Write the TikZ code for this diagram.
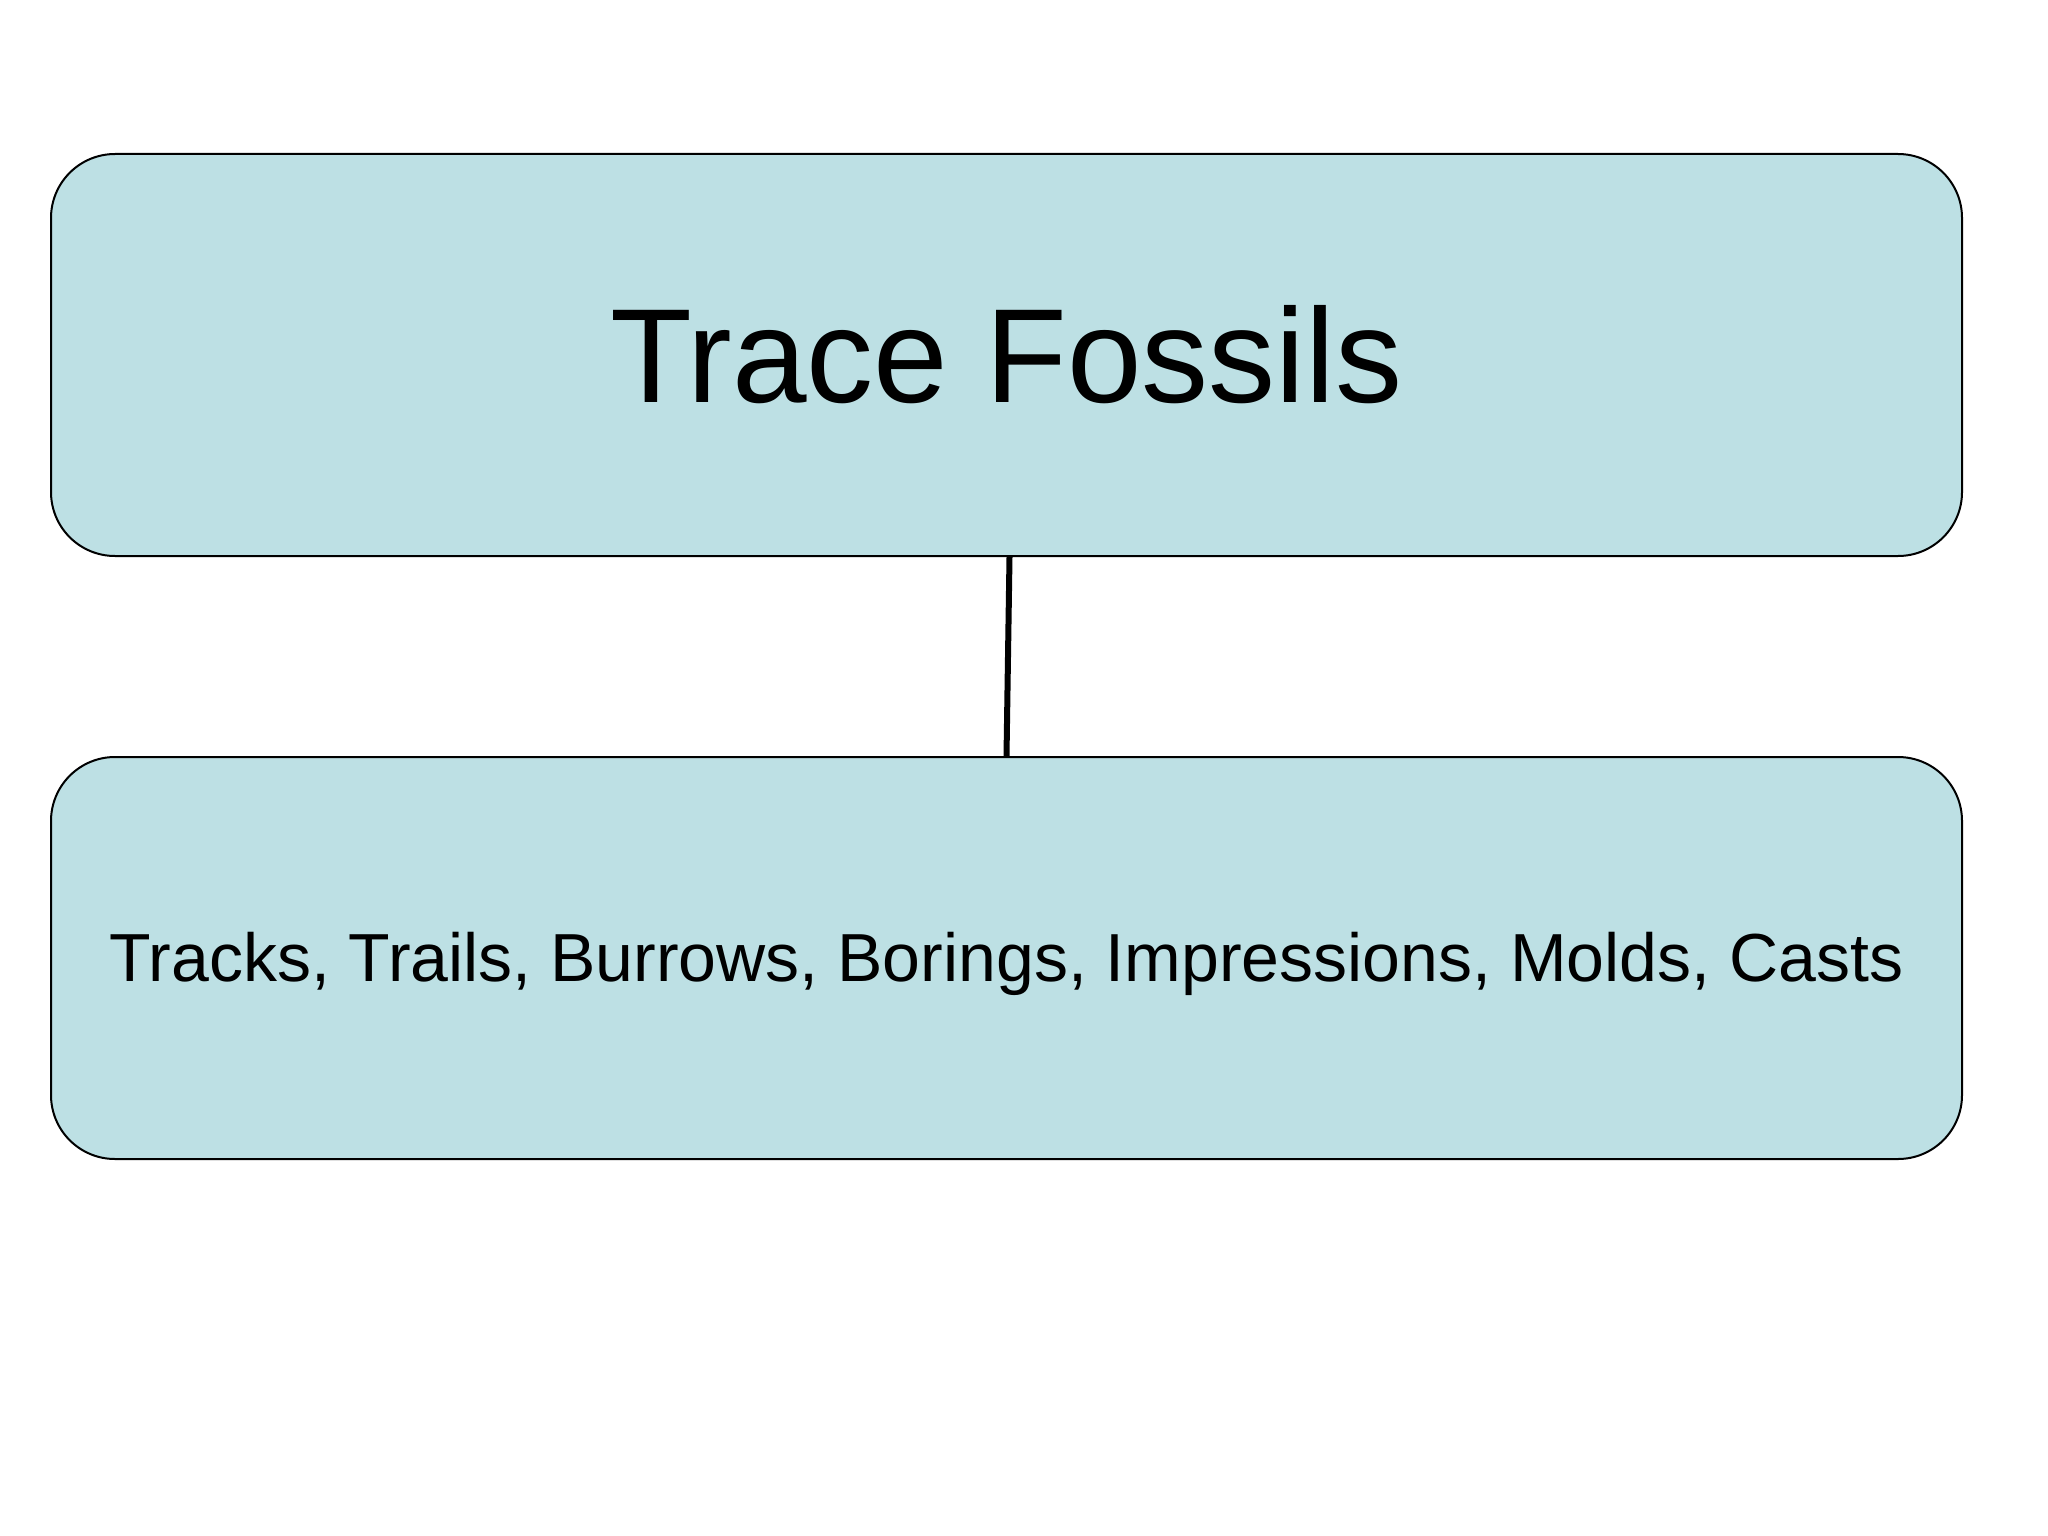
\documentclass[tikz,border=0pt]{standalone}
\usepackage{fontspec}
\setmainfont{Liberation Sans}
\usepackage{tikz}
\usetikzlibrary{positioning}
\definecolor{boxfill}{HTML}{BDE0E4}
\tikzstyle{level} = [rectangle, rounded corners=64pt, minimum width=1911pt, minimum height=402pt, text centered, draw=black, line width=2pt, fill=boxfill]
\tikzstyle{link} = [line width=6pt]

\begin{document}
\begin{tikzpicture}[x=1pt, y=1pt]

		\fill [white, use as bounding box] (0,0) rectangle (2048,-1536);

		\node (trace) [level, font=\fontsize{134pt}{160pt}\selectfont] at (1006.5,-355) {Trace Fossils};
		\node (kinds) [level, below=199pt of trace, text height=46pt, text depth=0pt, font=\fontsize{68pt}{82pt}\selectfont] {Tracks, Trails, Burrows, Borings, Impressions, Molds, Casts};

		\draw [link] ([xshift=3pt]trace.south) -- (kinds.north);

\end{tikzpicture}
\end{document}
